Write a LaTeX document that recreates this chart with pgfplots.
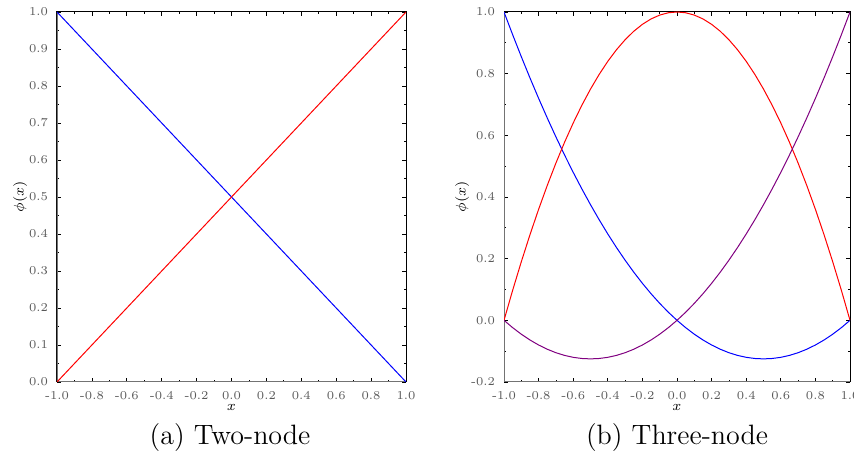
\documentclass[border=0pt]{standalone}
\usepackage{pgfplots}
\pgfplotsset{compat=1.18}
\usepackage{pgfplotstable}
\pgfplotstableread{
x n1 n2 n3
-1.00 1.00000 0.0000 0.00000
-0.95 0.92625 0.0975 -0.02375
-0.90 0.85500 0.1900 -0.04500
-0.85 0.78625 0.2775 -0.06375
-0.80 0.72000 0.3600 -0.08000
-0.75 0.65625 0.4375 -0.09375
-0.70 0.59500 0.5100 -0.10500
-0.65 0.53625 0.5775 -0.11375
-0.60 0.48000 0.6400 -0.12000
-0.55 0.42625 0.6975 -0.12375
-0.50 0.37500 0.7500 -0.12500
-0.45 0.32625 0.7975 -0.12375
-0.40 0.28000 0.8400 -0.12000
-0.35 0.23625 0.8775 -0.11375
-0.30 0.19500 0.9100 -0.10500
-0.25 0.15625 0.9375 -0.09375
-0.20 0.12000 0.9600 -0.08000
-0.15 0.08625 0.9775 -0.06375
-0.10 0.05500 0.9900 -0.04500
-0.05 0.02625 0.9975 -0.02375
0.00 0.00000 1.0000 0.00000
0.05 -0.02375 0.9975 0.02625
0.10 -0.04500 0.9900 0.05500
0.15 -0.06375 0.9775 0.08625
0.20 -0.08000 0.9600 0.12000
0.25 -0.09375 0.9375 0.15625
0.30 -0.10500 0.9100 0.19500
0.35 -0.11375 0.8775 0.23625
0.40 -0.12000 0.8400 0.28000
0.45 -0.12375 0.7975 0.32625
0.50 -0.12500 0.7500 0.37500
0.55 -0.12375 0.6975 0.42625
0.60 -0.12000 0.6400 0.48000
0.65 -0.11375 0.5775 0.53625
0.70 -0.10500 0.5100 0.59500
0.75 -0.09375 0.4375 0.65625
0.80 -0.08000 0.3600 0.72000
0.85 -0.06375 0.2775 0.78625
0.90 -0.04500 0.1900 0.85500
0.95 -0.02375 0.0975 0.92625
1.00 0.00000 0.0000 1.00000
}\quaddata
\definecolor{myblue}{RGB}{0,0,255}
\definecolor{myred}{RGB}{255,0,0}
\definecolor{mypurple}{RGB}{128,0,128}
\pgfplotsset{
  myaxis/.style={
    scale only axis,
    anchor=south west,
    height=185pt,
    tick align=inside,
    minor tick num=1,
    major tick length=2pt,
    minor tick length=1pt,
    tick style={black, line width=0.4pt},
    axis line style={line width=0.5pt},
    ticklabel style={font=\fontsize{6}{7}\selectfont, text=black!65},
    /pgf/number format/assume math mode=true,
    /pgf/number format/fixed,
    /pgf/number format/fixed zerofill,
    /pgf/number format/precision=1,
    xmin=-1, xmax=1,
    xtick={-1,-0.8,-0.6,-0.4,-0.2,0,0.2,0.4,0.6,0.8,1},
    xticklabel style={yshift=-1pt},
    yticklabel style={xshift=-1pt},
    xlabel={$x$},
    ylabel={$\phi(x)$},
    every axis x label/.style={at={(axis description cs:0.5,0)}, anchor=center, yshift=-12.5pt, font=\fontsize{7.5}{8}\selectfont},
    every axis y label/.style={at={(axis description cs:0,0.5)}, anchor=center, rotate=90, font=\fontsize{7.5}{8}\selectfont},
    every axis plot/.append style={line width=0.5pt},
  }
}
\begin{document}
\begin{tikzpicture}
\useasboundingbox (0,0) rectangle (427pt,227pt);
\begin{axis}[myaxis, at={(28.5pt,36pt)}, width=174.5pt,
  ymin=0, ymax=1,
  ytick={0,0.1,0.2,0.3,0.4,0.5,0.6,0.7,0.8,0.9,1},
  ylabel style={yshift=18.5pt}]
\draw[black!55, line width=1pt] (rel axis cs:0,1) -- (rel axis cs:0,0) -- (rel axis cs:1,0);
\addplot[myblue] coordinates {(-1,1) (1,0)};
\addplot[myred] coordinates {(-1,0) (1,1)};
\end{axis}
\begin{axis}[myaxis, at={(252pt,36pt)}, width=173pt,
  ymin=-0.2, ymax=1,
  ytick={-0.2,0,0.2,0.4,0.6,0.8,1},
  ylabel style={yshift=21pt}]
\draw[black!55, line width=1pt] (rel axis cs:0,1) -- (rel axis cs:0,0) -- (rel axis cs:1,0);
\addplot[myblue] table[x=x, y=n1] {\quaddata};
\addplot[myred] table[x=x, y=n2] {\quaddata};
\addplot[mypurple] table[x=x, y=n3] {\quaddata};
\end{axis}
\node[font=\fontsize{14}{16}\selectfont] at (115pt,8pt) {(a) Two-node};
\node[font=\fontsize{14}{16}\selectfont] at (338.5pt,8pt) {(b) Three-node};
\end{tikzpicture}
\end{document}
